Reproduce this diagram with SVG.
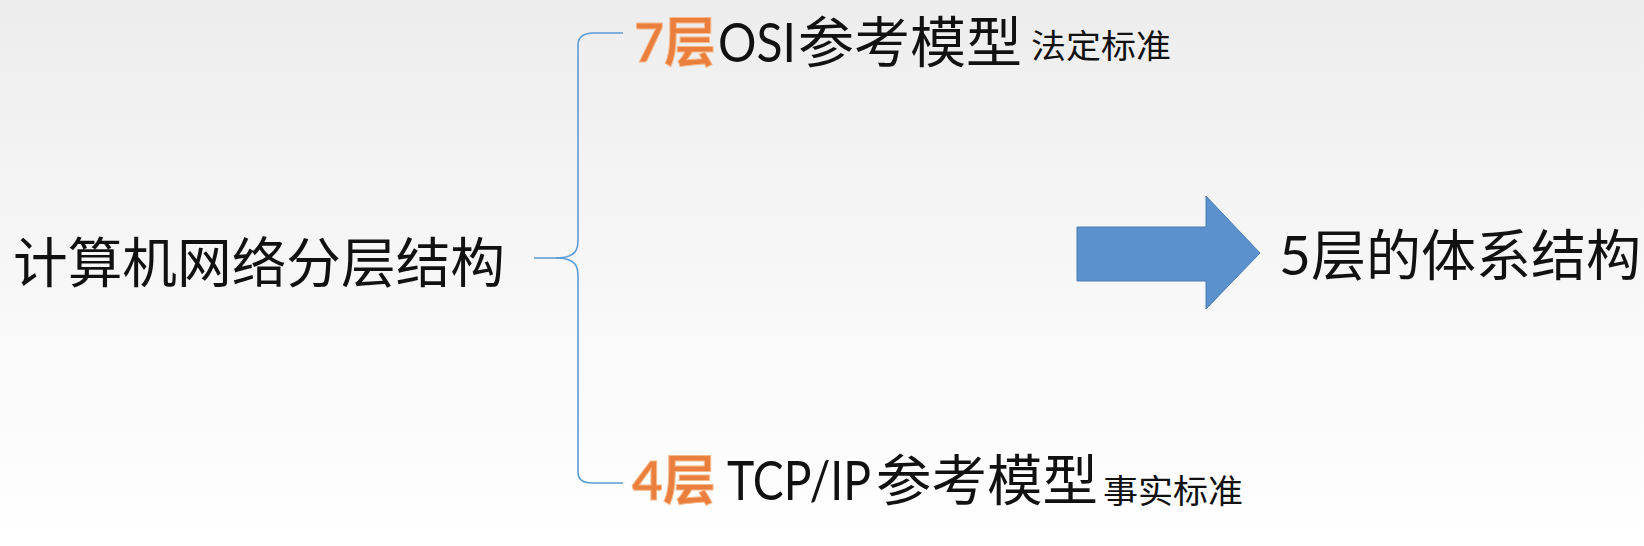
<svg xmlns="http://www.w3.org/2000/svg" width="1644" height="546" viewBox="0 0 1644 546">
<defs>
<linearGradient id="bg" x1="0" y1="0" x2="0" y2="1">
<stop offset="0" stop-color="#EDEDED"/>
<stop offset="0.6" stop-color="#F9F9F9"/>
<stop offset="1" stop-color="#FFFFFF"/>
</linearGradient>
<style>
.t{font-family:"Noto Sans CJK SC","Noto Sans",sans-serif;fill:#111;}
.lat{font-family:Lato,"Noto Sans",sans-serif;}
.or{fill:#EA7E3C;stroke:#F6B98C;stroke-width:1;font-weight:bold;}
.br{fill:none;stroke:#5B9BD5;stroke-width:1.6;}
</style>
</defs>
<rect width="1644" height="546" fill="url(#bg)"/>
<g id="root">
<text class="t" x="13" y="283" font-size="54" textLength="492" lengthAdjust="spacingAndGlyphs">计算机网络分层结构</text>
</g>
<g id="connectors">
<path class="br" d="M534,258 H556 Q570,258 575,252 Q578,248 578,240 V45 Q578,34 592,33 H623"/>
<path class="br" d="M556,258 Q570,258 575,264 Q578,268 578,276 V472 Q578,483 592,483 H623"/>
</g>
<g id="osi">
<text class="t or" x="634" y="62" font-size="54" textLength="82" lengthAdjust="spacingAndGlyphs"><tspan class="lat">7</tspan>层</text>
<text class="t" x="718" y="62" font-size="55"><tspan class="lat" font-size="54" textLength="78" lengthAdjust="spacingAndGlyphs">OSI</tspan><tspan x="798" textLength="224" lengthAdjust="spacingAndGlyphs">参考模型</tspan></text>
<text class="t" x="1031" y="58" font-size="33" textLength="140" lengthAdjust="spacingAndGlyphs">法定标准</text>
</g>
<g id="tcpip">
<text class="t or" x="632" y="500" font-size="54" textLength="84" lengthAdjust="spacingAndGlyphs"><tspan class="lat">4</tspan>层</text>
<text class="t" x="727" y="500" font-size="55"><tspan class="lat" font-size="54" textLength="144" lengthAdjust="spacingAndGlyphs">TCP/IP</tspan><tspan x="876" textLength="222" lengthAdjust="spacingAndGlyphs">参考模型</tspan></text>
<text class="t" x="1103" y="503" font-size="33" textLength="140" lengthAdjust="spacingAndGlyphs">事实标准</text>
</g>
<g id="arrow">
<polygon points="1077,227 1206,227 1206,196 1260,253 1206,309 1206,281 1077,281" fill="#5B91CC" stroke="#4A7DB5" stroke-width="1"/>
</g>
<g id="result">
<text class="t" x="1279" y="275" font-size="55"><tspan class="lat">5</tspan>层的体系结构</text>
</g>
</svg>
